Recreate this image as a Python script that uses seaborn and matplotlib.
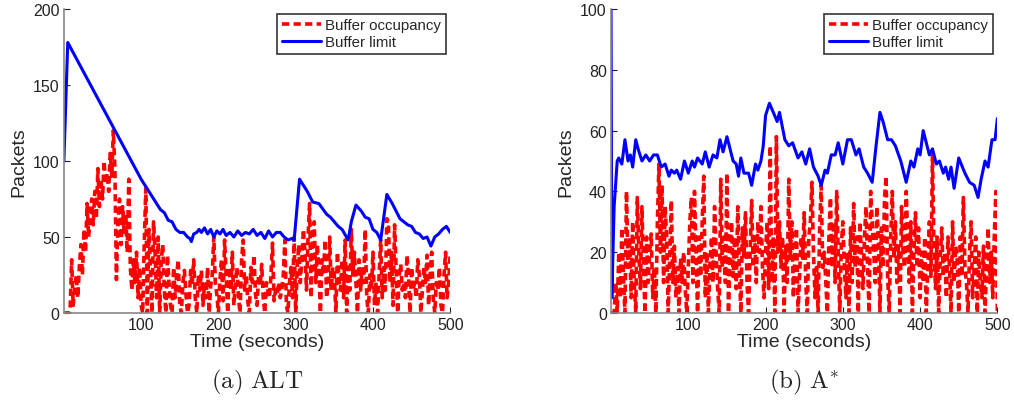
import numpy as np
import pandas as pd
import seaborn as sns
import matplotlib
matplotlib.use("Agg")
import matplotlib.pyplot as plt

# occupancy sampled every 2 s, 0..500
occ_time = list(range(0, 501, 2))

alt_occupancy = [
    0, 0, 0, 0, 0, 35, 5, 15, 25, 10,
    30, 45, 25, 55, 40, 72, 50, 65, 75, 58,
    80, 62, 95, 70, 88, 75, 100, 85, 92, 80,
    105, 90, 120, 95, 22, 60, 75, 45, 70, 52,
    65, 40, 88, 30, 15, 35, 20, 40, 10, 30,
    5, 0, 45, 82, 0, 55, 30, 0, 60, 40,
    10, 50, 0, 35, 45, 15, 0, 38, 20, 5,
    0, 30, 10, 25, 35, 5, 0, 20, 28, 12,
    0, 5, 28, 18, 35, 10, 0, 25, 15, 28,
    5, 20, 10, 30, 0, 18, 25, 50, 20, 12,
    0, 22, 35, 8, 48, 25, 0, 30, 15, 40,
    5, 20, 30, 10, 0, 35, 48, 15, 25, 8,
    0, 30, 20, 38, 12, 5, 25, 18, 32, 10,
    0, 20, 15, 10, 25, 46, 8, 15, 12, 20,
    10, 15, 25, 48, 5, 0, 20, 30, 10, 50,
    0, 30, 45, 20, 35, 55, 40, 15, 50, 72,
    10, 55, 60, 20, 45, 30, 0, 35, 25, 48,
    10, 20, 50, 15, 30, 25, 0, 40, 22, 15,
    35, 10, 48, 0, 30, 15, 55, 25, 40, 20,
    0, 35, 15, 30, 20, 55, 10, 0, 25, 15,
    40, 5, 20, 0, 25, 48, 10, 30, 15, 62,
    60, 20, 40, 5, 58, 30, 0, 25, 32, 15,
    20, 10, 38, 25, 0, 30, 15, 20, 10, 35,
    25, 0, 15, 30, 20, 38, 5, 25, 40, 10,
    0, 20, 15, 30, 5, 0, 25, 40, 10, 20,
    40,
]

astar_occupancy = [
    0, 0, 0, 10, 0, 20, 5, 28, 12, 0,
    40, 15, 25, 5, 30, 10, 0, 38, 20, 8,
    35, 15, 0, 25, 10, 20, 26, 5, 15, 0,
    30, 49, 20, 42, 10, 35, 25, 0, 18, 37,
    10, 22, 5, 15, 0, 18, 10, 20, 8, 0,
    15, 30, 38, 10, 40, 20, 0, 25, 12, 30,
    45, 5, 20, 0, 15, 25, 10, 35, 20, 8,
    0, 44, 15, 25, 10, 46, 0, 20, 30, 12,
    25, 8, 35, 15, 0, 28, 18, 33, 10, 0,
    20, 37, 15, 25, 10, 30, 20, 35, 15, 5,
    20, 30, 8, 55, 10, 25, 0, 58, 20, 30,
    15, 25, 0, 22, 10, 44, 18, 30, 5, 20,
    28, 0, 12, 25, 18, 33, 10, 0, 25, 30,
    43, 20, 5, 15, 0, 28, 42, 15, 20, 10,
    0, 25, 38, 15, 30, 10, 40, 20, 0, 22,
    30, 15, 5, 20, 0, 28, 10, 36, 15, 25,
    0, 30, 20, 8, 25, 35, 15, 0, 40, 30,
    20, 10, 35, 25, 0, 28, 15, 38, 45, 12,
    0, 25, 40, 18, 30, 10, 22, 0, 35, 20,
    15, 40, 25, 10, 30, 0, 20, 33, 15, 28,
    5, 20, 10, 25, 0, 15, 30, 12, 52, 20,
    8, 25, 0, 18, 28, 12, 20, 5, 25, 15,
    0, 30, 10, 22, 18, 0, 25, 12, 38, 15,
    10, 0, 20, 30, 5, 15, 25, 0, 20, 10,
    5, 22, 0, 15, 28, 10, 20, 5, 25, 40,
    0,
]

alt_limit_time = [0, 5, 100, 125, 130, 135, 140, 145, 150, 155, 160, 163, 165,
                  168, 172, 175, 178, 182, 186, 190, 194, 198, 202, 206, 210,
                  215, 220, 225, 230, 235, 240, 245, 250, 255, 260, 265, 270,
                  275, 280, 285, 290, 295, 298, 305, 315, 322, 330, 340, 345,
                  355, 360, 368, 372, 378, 385, 390, 395, 400, 405, 410, 418,
                  425, 435, 440, 445, 450, 455, 460, 465, 470, 475, 480, 485,
                  490, 495, 500]
alt_limit = [100, 178, 88, 68, 66, 61, 60, 55, 53, 53, 50, 49, 47,
             52, 53, 55, 53, 56, 52, 55, 50, 54, 52, 55, 51,
             53, 50, 54, 51, 53, 52, 55, 51, 53, 49, 54, 50,
             53, 53, 50, 48, 49, 48, 88, 80, 73, 72, 65, 63,
             57, 55, 48, 60, 71, 67, 63, 62, 55, 53, 48, 78,
             72, 62, 60, 58, 57, 53, 52, 49, 50, 44, 50, 52,
             55, 57, 53]

astar_limit_time = [0, 1, 4, 8, 10, 14, 18, 22, 25, 28, 32, 35, 40, 45, 50, 55,
                    60, 65, 70, 75, 78, 82, 85, 90, 95, 100, 105, 108, 112,
                    118, 122, 127, 132, 137, 141, 145, 150, 158, 162, 165,
                    168, 172, 178, 182, 187, 190, 194, 197, 200, 205, 210, 215,
                    218, 225, 230, 235, 242, 247, 252, 257, 262, 268, 272, 277,
                    280, 285, 290, 294, 300, 306, 311, 317, 321, 327, 332, 338,
                    343, 348, 352, 358, 363, 368, 375, 382, 388, 392, 397, 400,
                    404, 412, 416, 421, 425, 430, 433, 437, 440, 444, 450, 458,
                    464, 470, 475, 479, 484, 488, 493, 497, 500]
astar_limit = [100, 5, 35, 50, 51, 49, 57, 50, 52, 48, 57, 54, 50, 52, 50, 52,
               52, 48, 49, 45, 47, 46, 47, 44, 50, 46, 50, 48, 51,
               49, 53, 48, 52, 51, 57, 53, 58, 50, 49, 45,
               51, 46, 46, 42, 49, 47, 50, 55, 65, 69, 66, 63,
               66, 57, 55, 56, 51, 53, 49, 54, 48, 45, 42, 47,
               46, 52, 52, 56, 49, 57, 57, 52, 54, 48, 46, 43,
               55, 66, 63, 57, 57, 55, 50, 43, 50, 48, 54, 52,
               60, 52, 54, 49, 50, 46, 48, 44, 48, 41, 51, 46,
               43, 42, 38, 44, 50, 48, 57, 57, 64]

panels = [
    ("(a)\\ ALT", alt_occupancy, alt_limit_time, alt_limit, 200, [0, 50, 100, 150, 200]),
    ("(b)\\ A^{*}", astar_occupancy, astar_limit_time, astar_limit, 100, [0, 20, 40, 60, 80, 100]),
]

sns.set_style("white")
plt.rcParams["font.family"] = ["Liberation Sans", "DejaVu Sans"]
plt.rcParams["mathtext.fontset"] = "cm"

fig = plt.figure(figsize=(10.14, 4.02), dpi=100)
lefts = [0.063, 0.6026]

for (caption, occ, lt, lim, ymax, yticks), x0 in zip(panels, lefts):
    ax = fig.add_axes([x0, 0.219, 0.381, 0.756])
    df_occ = pd.DataFrame({"t": occ_time, "v": occ})
    df_lim = pd.DataFrame({"t": lt, "v": lim})
    sns.lineplot(data=df_occ, x="t", y="v", ax=ax, color="#ff0000",
                 linewidth=2.6, linestyle=(0, (2.0, 1.2)), label="Buffer occupancy")
    sns.lineplot(data=df_lim, x="t", y="v", ax=ax, color="#0000ff",
                 linewidth=2.2, label="Buffer limit")
    ax.set_xlim(0, 500)
    ax.set_ylim(0, ymax)
    ax.set_xticks([100, 200, 300, 400, 500])
    ax.set_yticks(yticks)
    ax.tick_params(direction="in", length=4, labelsize=11.5, colors="#222222",
                   left=True, bottom=True, pad=3)
    for side in ["top", "right"]:
        ax.spines[side].set_visible(False)
    for side in ["left", "bottom"]:
        ax.spines[side].set_color("#888888")
        ax.spines[side].set_linewidth(1.2)
    ax.set_xlabel("Time (seconds)", fontsize=14, labelpad=0.5)
    ax.set_ylabel("Packets", fontsize=14, labelpad=4)
    leg = ax.legend(loc="upper right", fontsize=10.8, frameon=True, fancybox=False,
                    handlelength=2.6, handletextpad=0.3, borderpad=0.3,
                    labelspacing=0.2, borderaxespad=0.3)
    leg.get_frame().set_edgecolor("black")
    leg.get_frame().set_linewidth(1.2)
    ax.text(0.5, -0.224, r"$\mathrm{" + caption + "}$", transform=ax.transAxes,
            ha="center", va="center", fontsize=18)

fig.savefig("out.png", dpi=100)
